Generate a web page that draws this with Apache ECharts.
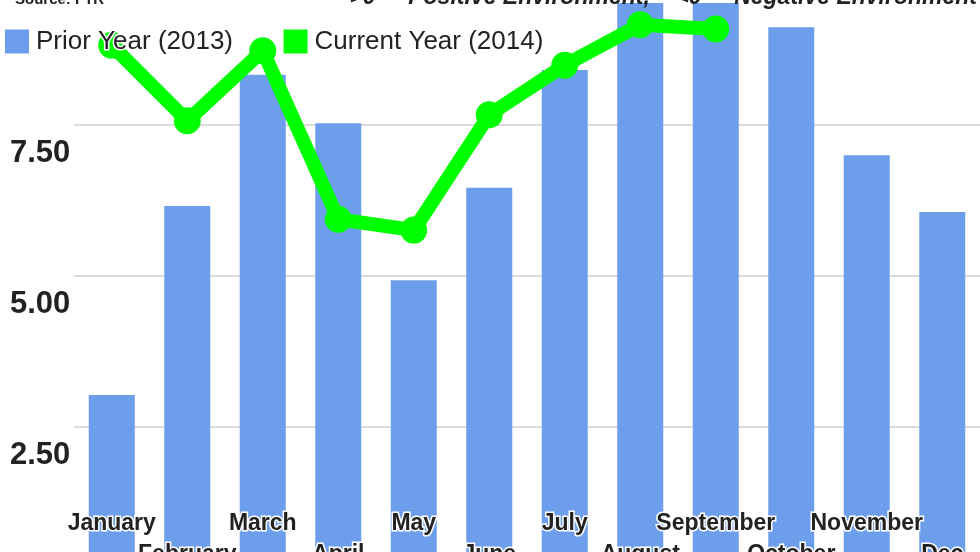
<!DOCTYPE html>
<html>
<head>
<meta charset="utf-8">
<script src="https://cdn.jsdelivr.net/npm/echarts@6/dist/echarts.min.js"></script>
<style>html,body{margin:0;padding:0;background:#fff;overflow:hidden;width:980px;height:552px;position:relative;}#c{position:absolute;left:0;top:-26px;width:980px;height:604px;}</style>
</head>
<body>
<div id="c"></div>
<script>
var months = ['January','February','March','April','May','June','July','August','September','October','November','Dec'];
var priorYear = [3.03, 6.16, 8.33, 7.53, 4.93, 6.46, 8.41, 9.52, 9.52, 9.12, 7.00, 6.06];
var currentYear = [8.82, 7.57, 8.73, 5.94, 5.76, 7.67, 8.49, 9.16, 9.09];
var seriesNames = ['Prior Year (2013)', 'Current Year (2014)'];
var sourceText = 'Source: FTR';
var noteText = '>0  = Positive Environment,    <0  = Negative Environment';

var chart = echarts.init(document.getElementById('c'));
var labelFont = 'Liberation Sans, Arial, sans-serif';
chart.setOption({
  animation: false,
  backgroundColor: '#fff',
  textStyle: {fontFamily: labelFont},
  graphic: [
    {type: 'text', left: 15, top: 18, z: 100, zlevel: 1, style: {text: sourceText, font: 'bold 15px ' + labelFont, fill: '#222'}},
    {type: 'text', right: 3, top: 12, z: 100, zlevel: 1, style: {text: noteText, font: 'italic bold 23px ' + labelFont, fill: '#222'}}
  ],
  legend: {
    left: 0, top: 48, icon: 'rect', itemWidth: 24, itemHeight: 24, itemGap: 49,
    textStyle: {fontSize: 26, color: '#222', padding: [0, 0, 0, 2], textBorderColor: '#fff', textBorderWidth: 3},
    data: seriesNames
  },
  grid: {left: 74, right: 0, top: 0, bottom: 0, containLabel: false},
  xAxis: [
    {type: 'category', data: months, axisLine: {show: false}, axisTick: {show: false},
     axisLabel: {interval: function (i) { return i % 2 === 0; }, margin: -66, fontSize: 23, fontWeight: 'bold', color: '#222', textBorderColor: '#fff', textBorderWidth: 3},
     z: 10},
    {type: 'category', data: months, position: 'bottom', axisLine: {show: false}, axisTick: {show: false},
     axisLabel: {interval: function (i) { return i % 2 === 1; }, margin: -35, fontSize: 23, fontWeight: 'bold', color: '#222', textBorderColor: '#fff', textBorderWidth: 3},
     z: 10}
  ],
  yAxis: {
    type: 'value', min: 0, max: 10, interval: 2.5,
    axisLine: {show: false}, axisTick: {show: false},
    splitLine: {lineStyle: {color: '#cfcfcf', width: 1.5}},
    axisLabel: {formatter: function (v) { return v.toFixed(2); }, align: 'left', margin: 64, verticalAlign: 'top', padding: [13, 0, 0, 0],
      showMinLabel: false, showMaxLabel: false,
      fontSize: 31, fontWeight: 'bold', color: '#222'}
  },
  series: [
    {name: seriesNames[0], type: 'bar', data: priorYear, barWidth: 46, itemStyle: {color: '#6d9eeb'}, z: 2},
    {name: seriesNames[1], type: 'line', data: currentYear, itemStyle: {color: '#00ff00'},
     lineStyle: {color: '#00ff00', width: 14}, symbol: 'circle', symbolSize: 27, z: 3}
  ]
});
</script>
</body>
</html>
